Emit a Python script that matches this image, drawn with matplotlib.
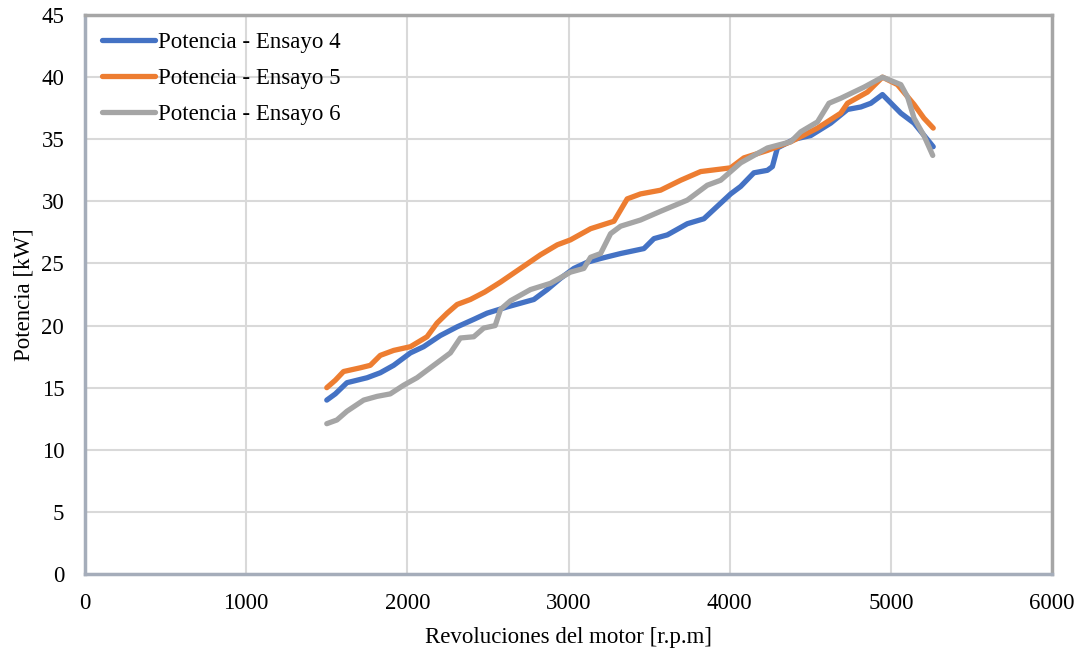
import matplotlib
matplotlib.use('Agg')
import matplotlib.pyplot as plt
import numpy as np

plt.rcParams['font.family'] = ['Liberation Serif', 'DejaVu Serif']

# Ensayo 4 (blue)
rpm_4 = [1500, 1553, 1625, 1750, 1832, 1915, 2019, 2101, 2205, 2309, 2412, 2495,
         2619, 2702, 2785, 2868, 2950, 3033, 3116, 3199, 3323, 3468, 3530, 3613,
         3737, 3840, 3923, 4006, 4068, 4150, 4234, 4265, 4296, 4400, 4503, 4627,
         4731, 4814, 4876, 4948, 5062, 5144, 5263]
pot_4 = [14.0, 14.5, 15.4, 15.8, 16.2, 16.8, 17.8, 18.3, 19.2, 19.9, 20.5, 21.0,
         21.5, 21.8, 22.1, 22.9, 23.8, 24.6, 25.1, 25.4, 25.8, 26.2, 27.0, 27.3,
         28.2, 28.6, 29.6, 30.6, 31.2, 32.3, 32.5, 32.8, 34.3, 35.0, 35.3, 36.3,
         37.4, 37.6, 37.9, 38.6, 37.1, 36.3, 34.4]

# Ensayo 5 (orange)
rpm_5 = [1500, 1553, 1604, 1708, 1770, 1832, 1915, 2019, 2122, 2184, 2247, 2309,
         2391, 2480, 2578, 2702, 2826, 2930, 3012, 3137, 3282, 3364, 3447, 3571,
         3696, 3820, 4006, 4088, 4234, 4379, 4545, 4689, 4731, 4855, 4948, 5041,
         5144, 5205, 5263]
pot_5 = [15.0, 15.6, 16.3, 16.6, 16.8, 17.6, 18.0, 18.3, 19.1, 20.2, 21.0, 21.7,
         22.1, 22.7, 23.5, 24.6, 25.7, 26.5, 26.9, 27.8, 28.4, 30.2, 30.6, 30.9,
         31.7, 32.4, 32.7, 33.5, 34.1, 34.8, 35.9, 37.1, 37.9, 38.8, 40.0, 39.4,
         37.8, 36.7, 35.9]

# Ensayo 6 (gray)
rpm_6 = [1500, 1563, 1625, 1729, 1812, 1894, 1977, 2060, 2122, 2205, 2267, 2329,
         2412, 2474, 2545, 2578, 2640, 2764, 2888, 3012, 3095, 3137, 3199, 3261,
         3323, 3447, 3571, 3737, 3861, 3944, 4006, 4068, 4234, 4379, 4441, 4545,
         4616, 4689, 4834, 4948, 5062, 5104, 5144, 5205, 5260]
pot_6 = [12.1, 12.4, 13.1, 14.0, 14.3, 14.5, 15.2, 15.8, 16.4, 17.2, 17.8, 19.0,
         19.1, 19.8, 20.0, 21.3, 22.0, 22.9, 23.4, 24.3, 24.6, 25.5, 25.8, 27.4,
         28.0, 28.5, 29.2, 30.1, 31.3, 31.7, 32.4, 33.1, 34.3, 34.8, 35.6, 36.4,
         37.9, 38.3, 39.2, 40.0, 39.4, 38.4, 36.7, 35.3, 33.7]

fig = plt.figure(figsize=(10.86, 6.55), dpi=100)
ax = fig.add_axes([0.0783, 0.1237, 0.8904, 0.8533])

ax.plot(rpm_4, pot_4, color='#4472C4', lw=3.8, solid_capstyle='round', label='Potencia - Ensayo 4')
ax.plot(rpm_5, pot_5, color='#ED7D31', lw=3.8, solid_capstyle='round', label='Potencia - Ensayo 5')
ax.plot(rpm_6, pot_6, color='#A5A5A5', lw=3.8, solid_capstyle='round', label='Potencia - Ensayo 6')

ax.set_xlim(0, 6000)
ax.set_ylim(0, 45)
ax.set_xticks(np.arange(0, 6001, 1000))
ax.set_yticks(np.arange(0, 46, 5))
ax.grid(True, color='#D9D9D9', lw=1.5)
ax.set_axisbelow(True)
ax.tick_params(length=0, labelsize=16.5)
ax.tick_params(axis='x', pad=14)
ax.tick_params(axis='y', pad=15)

for s in ['top', 'right']:
    ax.spines[s].set_color('#A6A6A6')
    ax.spines[s].set_linewidth(2.5)
for s in ['left', 'bottom']:
    ax.spines[s].set_color('#A5ADBA')
    ax.spines[s].set_linewidth(2.5)

ax.set_xlabel('Revoluciones del motor [r.p.m]', fontsize=16.5, labelpad=9)
ax.set_ylabel('Potencia [kW]', fontsize=16.5, labelpad=5)

ax.legend(loc='upper left', frameon=False, fontsize=16.5, handlelength=2.3,
          handletextpad=0.15, labelspacing=0.65, borderaxespad=0.35)

fig.savefig('out.png', dpi=100)
